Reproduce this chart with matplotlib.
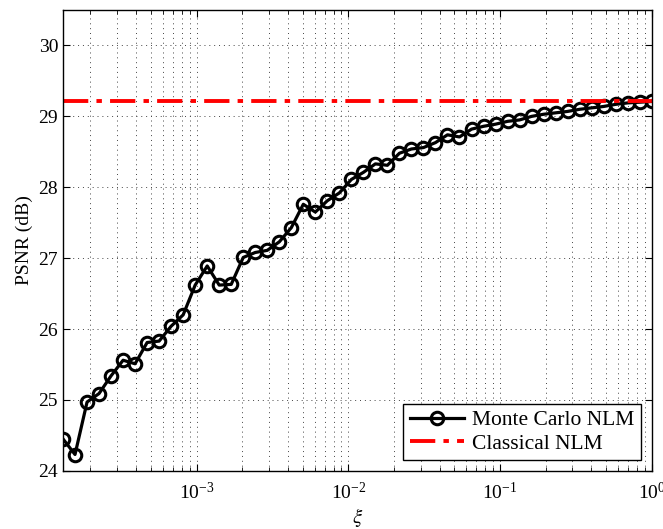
import numpy as np
import matplotlib
matplotlib.use('Agg')
import matplotlib.pyplot as plt
from matplotlib.ticker import LogLocator, NullFormatter

plt.rcParams['font.family'] = ['Liberation Serif', 'DejaVu Serif']
plt.rcParams['mathtext.fontset'] = 'stix'

# xi values (log-spaced sampling, 1.2^-k)
xi = [0.0001318, 0.0001582, 0.0001899, 0.0002278, 0.0002734, 0.0003281,
      0.0003937, 0.0004725, 0.0005670, 0.0006803, 0.0008164, 0.0009797,
      0.001176, 0.001411, 0.001693, 0.002032, 0.002438, 0.002926,
      0.003511, 0.004213, 0.005055, 0.006066, 0.007279, 0.008735,
      0.01048, 0.01258, 0.01509, 0.01811, 0.02174, 0.02608,
      0.03130, 0.03756, 0.04507, 0.05409, 0.06491, 0.07789,
      0.09346, 0.1122, 0.1346, 0.1615, 0.1938, 0.2326,
      0.2791, 0.3349, 0.4019, 0.4823, 0.5787, 0.6944, 0.8333, 1.0]

# PSNR of Monte Carlo NLM
psnr_mc = [24.45, 24.23, 24.97, 25.09, 25.34, 25.56, 25.51, 25.81, 25.83, 26.04,
           26.20, 26.62, 26.89, 26.62, 26.63, 27.01, 27.08, 27.11, 27.23, 27.43,
           27.76, 27.65, 27.81, 27.92, 28.11, 28.21, 28.33, 28.31, 28.48, 28.54,
           28.56, 28.63, 28.74, 28.71, 28.82, 28.86, 28.89, 28.93, 28.95, 29.00,
           29.03, 29.05, 29.07, 29.10, 29.12, 29.14, 29.17, 29.19, 29.20, 29.21]

# PSNR of classical NLM (constant)
psnr_classical = 29.22

fig = plt.figure(figsize=(6.63, 5.29), dpi=100)
ax = fig.add_axes([0.095, 0.110, 0.888, 0.871])

ax.plot(xi, psnr_mc, color='black', lw=2.3, marker='o', markersize=9,
        mfc='none', mec='black', mew=2.2, label='Monte Carlo NLM')
ax.axhline(psnr_classical, color='red', lw=2.8,
           linestyle=(0, (6.5, 2.1, 1.4, 2.1)), label='Classical NLM')

ax.set_xscale('log')
ax.set_xlim(xi[0], 1)
ax.set_ylim(24, 30.5)
ax.set_yticks([24, 25, 26, 27, 28, 29, 30])
ax.xaxis.set_major_locator(LogLocator(base=10, numticks=10))
ax.xaxis.set_minor_locator(LogLocator(base=10, subs=np.arange(2, 10), numticks=20))
ax.xaxis.set_minor_formatter(NullFormatter())

ax.grid(True, which='major', axis='both', linestyle=(0, (1, 4)), color='#444444', lw=0.7)
ax.grid(True, which='minor', axis='x', linestyle=(0, (1, 4)), color='#444444', lw=0.7)

ax.tick_params(which='both', direction='in', top=True, right=True, labelsize=14)
ax.tick_params(which='major', length=5, width=0.8)
ax.tick_params(which='minor', length=3, width=0.6)
ax.tick_params(axis='x', pad=8)
for s in ax.spines.values():
    s.set_linewidth(1.0)

ax.set_xlabel(r'$\xi$', fontsize=15, labelpad=2)
ax.set_ylabel('PSNR (dB)', fontsize=14)

leg = ax.legend(loc='lower right', fontsize=15.5, handlelength=2.5, fancybox=False,
                framealpha=1, edgecolor='black', borderpad=0.3, labelspacing=0.15,
                handletextpad=0.4, borderaxespad=0.5)
leg.get_frame().set_linewidth(1.0)

fig.savefig('out.png', dpi=100)
